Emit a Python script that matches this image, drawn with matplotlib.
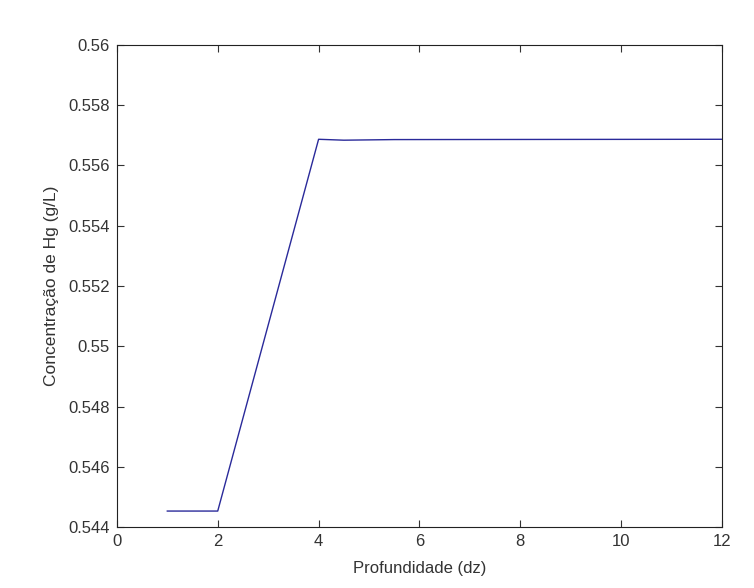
import matplotlib
matplotlib.use("Agg")
import matplotlib.pyplot as plt
from matplotlib.ticker import FixedFormatter, FixedLocator

# Mercury concentration profile along depth
depth = [1, 2, 4, 4.5, 5.5, 12]
conc = [0.54453, 0.54453, 0.55687, 0.55684, 0.55686, 0.55687]

x_ticks = [0, 2, 4, 6, 8, 10, 12]
y_ticks = [0.544, 0.546, 0.548, 0.55, 0.552, 0.554, 0.556, 0.558, 0.56]
y_labels = ["0.544", "0.546", "0.548", "0.55", "0.552", "0.554", "0.556", "0.558", "0.56"]

plt.rcParams['font.family'] = ['Liberation Sans', 'DejaVu Sans']

fig = plt.figure(figsize=(7.54, 5.88), dpi=100)
ax = fig.add_axes([0.155, 0.1037, 0.8026, 0.8198])

ax.plot(depth, conc, color='#2a2a9a', linewidth=1.0)

ax.set_xlim(0, 12)
ax.set_ylim(0.544, 0.56)
ax.xaxis.set_major_locator(FixedLocator(x_ticks))
ax.yaxis.set_major_locator(FixedLocator(y_ticks))
ax.yaxis.set_major_formatter(FixedFormatter(y_labels))

ax.tick_params(direction='in', length=5, width=0.8, labelsize=12,
               top=True, right=True, colors='#333333', pad=5)
for s in ax.spines.values():
    s.set_linewidth(0.8)
    s.set_color('#222222')

ax.set_xlabel('Profundidade (dz)', fontsize=12, color='#333333', labelpad=9)
ax.set_ylabel('Concentração de Hg (g/L)', fontsize=12.5, color='#333333', labelpad=7)

fig.savefig('out.png', dpi=100)
